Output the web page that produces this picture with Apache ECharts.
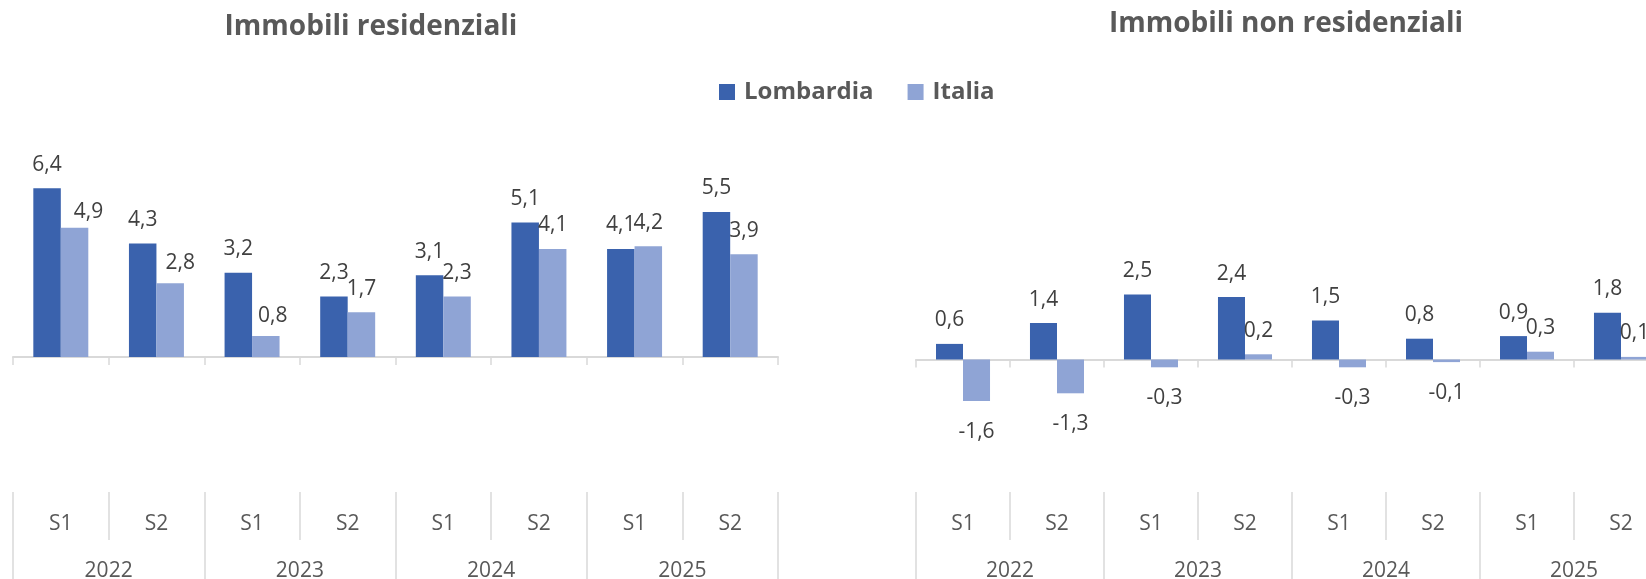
<!DOCTYPE html>
<html>
<head>
<meta charset="utf-8">
<style>
  html, body { margin: 0; padding: 0; background: #fff; }
  #chart { width: 1646px; height: 579px; }
</style>
</head>
<body>
<div id="chart"></div>
<script src="https://cdn.jsdelivr.net/npm/echarts@6.0.0/dist/echarts.min.js"></script>
<script>
(function () {
  'use strict';

  var years = ['2022', '2023', '2024', '2025'];
  var halves = ['S1', 'S2'];

  var resLombardia = [6.4, 4.3, 3.2, 2.3, 3.1, 5.1, 4.1, 5.5];
  var resItalia = [4.9, 2.8, 0.8, 1.7, 2.3, 4.1, 4.2, 3.9];
  var nonResLombardia = [0.6, 1.4, 2.5, 2.4, 1.5, 0.8, 0.9, 1.8];
  var nonResItalia = [-1.6, -1.3, -0.3, 0.2, -0.3, -0.1, 0.3, 0.1];

  // a few Italia labels were nudged by hand in the original
  var resItaliaLabelNudge = [[14, 8], [10, 3], [7, 4], [0, 0], [0, 0], [0, 0], [0, 0], [0, 0]];

  var LOMB = '#3a62ad';
  var ITA = '#8fa4d5';
  var RULE = '#d9d9d9';
  var FONT = 'Open Sans';

  var periodKeys = [];
  years.forEach(function (y) {
    halves.forEach(function (h) { periodKeys.push(y + ' ' + h); });
  });

  // the right panel runs past the edge of the picture, as in the original
  var panels = [
    {
      title: 'Immobili residenziali', titleX: 371, titleTop: 13,
      lomb: resLombardia, ita: resItalia, nudge: resItaliaLabelNudge,
      grid: { left: 13, top: 146, width: 765, height: 343 }, min: -5, max: 8, offset: 3
    },
    {
      title: 'Immobili non residenziali', titleX: 1286, titleTop: 10,
      lomb: nonResLombardia, ita: nonResItalia, nudge: null,
      grid: { left: 916, top: 281.5, width: 752, height: 208 }, min: -5, max: 3, offset: 2.5
    }
  ];

  function fmt(v) {
    return v.toFixed(1).replace('.', ',');
  }

  function barItems(values, nudge) {
    return values.map(function (v, i) {
      return {
        value: v,
        label: { distance: v < 0 ? 20 : 13, offset: nudge ? nudge[i] : [0, 0] }
      };
    });
  }

  var option = {
    animation: false,
    backgroundColor: '#fff',
    title: [],
    legend: {
      data: ['Lombardia', 'Italia'],
      left: 719, top: 80, padding: 0,
      icon: 'rect', itemWidth: 16, itemHeight: 16, itemGap: 34,
      textStyle: { fontFamily: FONT, fontWeight: 'bold', fontSize: 24, color: '#595959', padding: [0, 0, 0, 4] }
    },
    grid: [],
    xAxis: [],
    yAxis: [],
    series: []
  };

  panels.forEach(function (p, gi) {
    option.title.push({
      text: p.title, left: p.titleX, top: p.titleTop, textAlign: 'center', padding: 0,
      textStyle: { fontFamily: FONT, fontWeight: 'bold', fontSize: 28, color: '#595959' }
    });

    var g = p.grid;
    g.outerBoundsMode = 'none';
    g.containLabel = false;
    option.grid.push(g);

    var base = option.xAxis.length;
    // zero line carrying the bars
    option.xAxis.push({
      type: 'category', gridIndex: gi, data: periodKeys, position: 'bottom',
      axisLine: { onZero: true, lineStyle: { color: RULE, width: 2 } },
      axisTick: { show: true, length: 8, interval: 0, lineStyle: { color: RULE, width: 1.5 } },
      axisLabel: { show: false },
      splitLine: { show: false }
    });
    // half-year row
    option.xAxis.push({
      type: 'category', gridIndex: gi, data: periodKeys, position: 'bottom', offset: p.offset,
      axisLine: { show: false, onZero: false },
      axisTick: { show: true, length: 48, interval: 0, lineStyle: { color: RULE, width: 1.5 } },
      axisLabel: {
        interval: 0, margin: 22, fontFamily: FONT, fontSize: 21, color: '#595959',
        formatter: function (v) { return v.split(' ')[1]; }
      },
      splitLine: { show: false }
    });
    // year row
    option.xAxis.push({
      type: 'category', gridIndex: gi, data: years, position: 'bottom', offset: p.offset,
      axisLine: { show: false, onZero: false },
      axisTick: { show: true, length: 120, interval: 0, lineStyle: { color: RULE, width: 1.5 } },
      axisLabel: { interval: 0, margin: 69, fontFamily: FONT, fontSize: 21, color: '#595959' },
      splitLine: { show: false }
    });

    option.yAxis.push({
      type: 'value', gridIndex: gi, min: p.min, max: p.max, show: false
    });

    [['Lombardia', p.lomb, LOMB, null], ['Italia', p.ita, ITA, p.nudge]].forEach(function (s) {
      option.series.push({
        name: s[0], type: 'bar', xAxisIndex: base, yAxisIndex: gi,
        data: barItems(s[1], s[3]),
        barGap: '0%', barCategoryGap: '42.5%',
        itemStyle: { color: s[2] },
        label: {
          show: true, position: 'outside',
          fontFamily: FONT, fontSize: 21, color: '#404040',
          formatter: function (d) { return fmt(d.value); }
        }
      });
    });
  });

  var chart = echarts.init(document.getElementById('chart'), null, { renderer: 'canvas' });
  chart.setOption(option);
})();
</script>
</body>
</html>
